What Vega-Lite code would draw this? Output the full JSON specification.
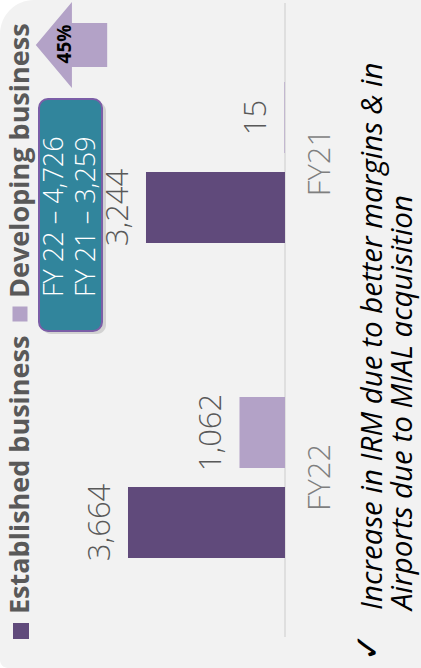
{
  "$schema": "https://vega.github.io/schema/vega-lite/v6.json",
  "width": 421,
  "height": 668,
  "padding": 0,
  "autosize": {"type": "fit", "contains": "padding"},
  "background": "#ffffff",
  "config": {"view": {"stroke": null}, "font": "Open Sans"},
  "resolve": {"scale": {"x": "independent", "y": "independent"}},
  "layer": [
    {
      "data": {"values": [{}]},
      "layer": [
        {
          "mark": {"type": "rect", "color": "#f2f2f2", "cornerRadiusTopLeft": 34, "cornerRadiusBottomLeft": 8},
          "encoding": {
            "x": {"datum": 0, "type": "quantitative", "scale": {"domain": [0, 421], "nice": false, "zero": false}, "axis": null},
            "x2": {"datum": 421},
            "y": {"datum": 0, "type": "quantitative", "scale": {"domain": [0, 668], "reverse": true, "nice": false, "zero": false}, "axis": null},
            "y2": {"datum": 668}
          }
        },
        {
          "mark": {"type": "rule", "color": "#d9d9d9", "strokeWidth": 1.5},
          "encoding": {
            "x": {"datum": 285, "type": "quantitative", "scale": {"domain": [0, 421], "nice": false, "zero": false}, "axis": null},
            "y": {"datum": 3, "type": "quantitative", "scale": {"domain": [0, 668], "reverse": true, "nice": false, "zero": false}, "axis": null},
            "y2": {"datum": 637}
          }
        }
      ]
    },
    {
      "data": {
        "values": [
          {"period": "FY22", "series": "Established business", "value": 3664},
          {"period": "FY22", "series": "Developing business", "value": 1062},
          {"period": "FY21", "series": "Established business", "value": 3244},
          {"period": "FY21", "series": "Developing business", "value": 15}
        ]
      },
      "layer": [
        {
          "mark": {"type": "bar"},
          "encoding": {
            "y": {"field": "period", "type": "nominal", "scale": {"domain": ["FY21", "FY22"], "paddingInner": 0.489, "paddingOuter": 0.305, "align": 0.427}, "axis": null},
            "yOffset": {"field": "series", "type": "nominal", "scale": {"domain": ["Developing business", "Established business"], "paddingInner": 0.211, "paddingOuter": 0}},
            "x": {"field": "value", "type": "quantitative", "stack": null, "scale": {"domain": [-3174, 6651], "reverse": true, "nice": false, "zero": false}, "axis": null},
            "x2": {"datum": 0},
            "color": {"field": "series", "type": "nominal", "scale": {"domain": ["Established business", "Developing business"], "range": ["#604A7B", "#B3A2C7"]}, "legend": null}
          }
        },
        {
          "mark": {"type": "text", "angle": 270, "align": "center", "baseline": "alphabetic", "dy": -18, "fontSize": 31, "fontWeight": 300, "color": "#595959"},
          "encoding": {
            "y": {"field": "period", "type": "nominal", "scale": {"domain": ["FY21", "FY22"], "paddingInner": 0.489, "paddingOuter": 0.305, "align": 0.427}, "axis": null},
            "yOffset": {"field": "series", "type": "nominal", "scale": {"domain": ["Developing business", "Established business"], "paddingInner": 0.211, "paddingOuter": 0}},
            "x": {"field": "value", "type": "quantitative", "stack": null, "scale": {"domain": [-3174, 6651], "reverse": true, "nice": false, "zero": false}, "axis": null},
            "text": {"field": "value", "type": "quantitative", "format": ","}
          }
        },
        {
          "transform": [{"filter": "datum.series === 'Established business'"}],
          "mark": {"type": "text", "angle": 270, "align": "center", "baseline": "alphabetic", "dy": 45, "fontSize": 31, "fontWeight": 300, "color": "#7f7f7f"},
          "encoding": {
            "y": {"field": "period", "type": "nominal", "scale": {"domain": ["FY21", "FY22"], "paddingInner": 0.489, "paddingOuter": 0.305, "align": 0.427}, "axis": null},
            "x": {"datum": 0, "type": "quantitative", "scale": {"domain": [-3174, 6651], "reverse": true, "nice": false, "zero": false}, "axis": null},
            "text": {"field": "period", "type": "nominal"}
          }
        }
      ]
    },
    {
      "data": {"values": [{}]},
      "encoding": {
        "x": {"type": "quantitative", "scale": {"domain": [0, 421], "nice": false, "zero": false}, "axis": null},
        "y": {"type": "quantitative", "scale": {"domain": [0, 668], "reverse": true, "nice": false, "zero": false}, "axis": null}
      },
      "layer": [
        {
          "mark": {"type": "square", "size": 256, "color": "#604A7B", "opacity": 1},
          "encoding": {"x": {"datum": 21}, "y": {"datum": 631}}
        },
        {
          "mark": {"type": "text", "text": "Established business", "angle": 270, "align": "left", "baseline": "alphabetic", "fontSize": 27, "fontWeight": "bold", "color": "#595959"},
          "encoding": {"x": {"datum": 29}, "y": {"datum": 614}}
        },
        {
          "mark": {"type": "square", "size": 225, "color": "#B3A2C7", "opacity": 1},
          "encoding": {"x": {"datum": 20}, "y": {"datum": 314}}
        },
        {
          "mark": {"type": "text", "text": "Developing business", "angle": 270, "align": "left", "baseline": "alphabetic", "fontSize": 27, "fontWeight": "bold", "color": "#595959"},
          "encoding": {"x": {"datum": 29}, "y": {"datum": 298}}
        },
        {
          "mark": {"type": "rect", "color": "#000000", "opacity": 0.13, "cornerRadius": 9},
          "encoding": {"x": {"datum": 42}, "x2": {"datum": 106}, "y": {"datum": 102}, "y2": {"datum": 334}}
        },
        {
          "mark": {"type": "rect", "fill": "#31859C", "stroke": "#7B5EA7", "strokeWidth": 2, "cornerRadius": 9},
          "encoding": {"x": {"datum": 39}, "x2": {"datum": 102}, "y": {"datum": 99}, "y2": {"datum": 331}}
        },
        {
          "mark": {"type": "text", "text": "FY 22 – 4,726", "angle": 270, "align": "left", "baseline": "alphabetic", "fontSize": 27, "fontWeight": 300, "color": "#ffffff"},
          "encoding": {"x": {"datum": 63}, "y": {"datum": 297}}
        },
        {
          "mark": {"type": "text", "text": "FY 21 – 3,259", "angle": 270, "align": "left", "baseline": "alphabetic", "fontSize": 27, "fontWeight": 300, "color": "#ffffff"},
          "encoding": {"x": {"datum": 95}, "y": {"datum": 297}}
        },
        {
          "mark": {"type": "point", "filled": true, "opacity": 1, "size": 7396, "color": "#B3A2C7", "shape": "M -0.83 0 L 0.01 -1 L 0.01 -0.51 L 0.83 -0.51 L 0.83 0.51 L 0.01 0.51 L 0.01 1 Z"},
          "encoding": {"x": {"datum": 71.5}, "y": {"datum": 45}}
        },
        {
          "mark": {"type": "text", "text": "45%", "angle": 270, "align": "center", "baseline": "alphabetic", "fontSize": 19, "fontWeight": "bold", "color": "#000000"},
          "encoding": {"x": {"datum": 71}, "y": {"datum": 44}}
        },
        {
          "mark": {"type": "text", "text": "✓", "angle": 270, "align": "center", "baseline": "middle", "fontSize": 34, "font": "DejaVu Sans", "color": "#000000"},
          "encoding": {"x": {"datum": 369}, "y": {"datum": 647}}
        },
        {
          "mark": {"type": "text", "text": "Increase in IRM due to better margins & in", "angle": 270, "align": "left", "baseline": "alphabetic", "fontSize": 29.5, "fontStyle": "italic", "color": "#000000"},
          "encoding": {"x": {"datum": 382}, "y": {"datum": 610}}
        },
        {
          "mark": {"type": "text", "text": "Airports due to MIAL acquisition", "angle": 270, "align": "left", "baseline": "alphabetic", "fontSize": 29.5, "fontStyle": "italic", "color": "#000000"},
          "encoding": {"x": {"datum": 412}, "y": {"datum": 610}}
        }
      ]
    }
  ]
}
